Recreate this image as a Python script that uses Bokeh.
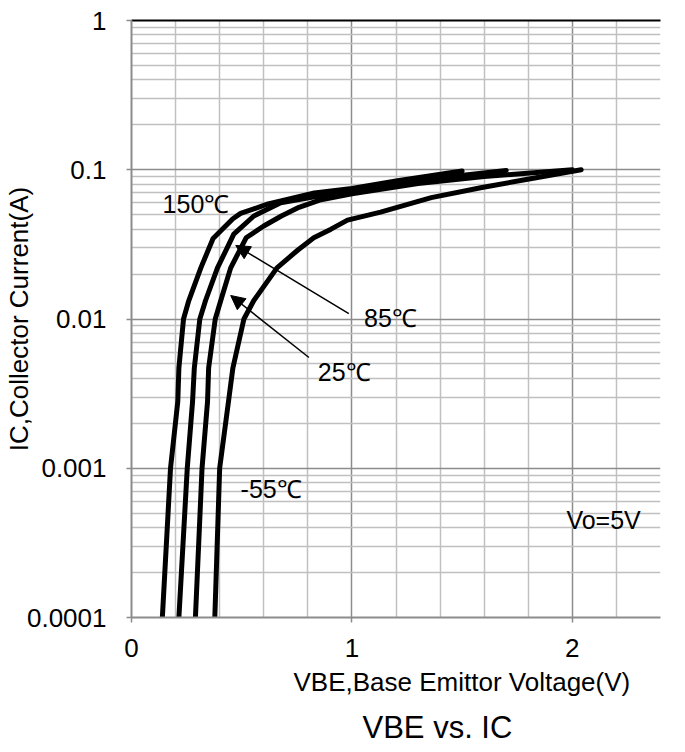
from bokeh.plotting import figure
from bokeh.models import (FixedTicker, LinearAxis, Range1d, Label, Arrow, NormalHead,
                          CustomJSTickFormatter, Title)
from bokeh.embed import file_html
from bokeh.resources import INLINE

# ---- data ----
vbe_150 = [0.140, 0.177, 0.210, 0.215, 0.236, 0.260, 0.315, 0.370, 0.420, 0.460, 0.495, 0.620, 0.830, 1.000, 1.200, 1.500]
ic_150 = [1e-4, 1e-3, 2.8e-3, 4.7e-3, 1e-2, 1.33e-2, 2.21e-2, 3.46e-2, 4.1e-2, 4.7e-2, 5.1e-2, 5.9e-2, 7.0e-2, 7.5e-2, 8.4e-2, 9.8e-2]

vbe_85 = [0.215, 0.253, 0.277, 0.285, 0.310, 0.336, 0.390, 0.464, 0.555, 0.677, 0.830, 1.000, 1.300, 1.700]
ic_85 = [1e-4, 1e-3, 2.8e-3, 4.7e-3, 1e-2, 1.33e-2, 2.2e-2, 3.7e-2, 4.9e-2, 6.0e-2, 6.6e-2, 7.2e-2, 8.5e-2, 9.9e-2]

vbe_25 = [0.290, 0.320, 0.345, 0.350, 0.380, 0.405, 0.450, 0.520, 0.600, 0.680, 0.760, 0.860, 1.000, 1.300, 1.600, 2.000]
ic_25 = [1e-4, 1e-3, 2.8e-3, 4.7e-3, 1e-2, 1.33e-2, 2.2e-2, 3.5e-2, 4.2e-2, 4.9e-2, 5.6e-2, 6.3e-2, 6.9e-2, 8.1e-2, 9.0e-2, 1e-1]

vbe_m55 = [0.378, 0.400, 0.440, 0.460, 0.510, 0.555, 0.660, 0.755, 0.827, 0.905, 0.980, 1.130, 1.360, 1.590, 1.810, 2.040]
ic_m55 = [1e-4, 1e-3, 2.8e-3, 4.7e-3, 1e-2, 1.33e-2, 2.2e-2, 2.9e-2, 3.5e-2, 4.0e-2, 4.6e-2, 5.2e-2, 6.5e-2, 7.6e-2, 8.7e-2, 1e-1]

x_major_ticks = [0, 1, 2]
y_major_ticks = [1e-4, 1e-3, 1e-2, 1e-1, 1]

FONT = "Liberation Sans"

p = figure(width=685, height=752, output_backend="svg", toolbar_location=None,
           y_axis_type="log", x_range=Range1d(0, 2.4), y_range=Range1d(1e-4, 1),
           min_border_left=131, min_border_right=25, min_border_top=20, min_border_bottom=135)
p.outline_line_color = None
p.background_fill_color = "white"

x_minor = [round(0.2 * i, 1) for i in range(13) if (0.2 * i) % 1 > 1e-6 and (0.2 * i) % 1 < 1 - 1e-6]
y_minor = [m * 10.0 ** e for e in range(-4, 0) for m in range(2, 10)]

p.xaxis.ticker = FixedTicker(ticks=x_major_ticks, minor_ticks=x_minor)
p.yaxis.ticker = FixedTicker(ticks=y_major_ticks, minor_ticks=y_minor)
p.yaxis.formatter = CustomJSTickFormatter(code="return tick.toString();")

p.xgrid.grid_line_color = "#8c8c8c"
p.xgrid.minor_grid_line_color = "#c0c0c0"
p.ygrid.grid_line_color = "#8c8c8c"
p.ygrid.minor_grid_line_color = "#c0c0c0"
for g in (p.xgrid, p.ygrid):
    g.grid_line_width = 1.5
    g.minor_grid_line_width = 1.5

for ax in (p.xaxis, p.yaxis):
    ax.axis_line_color = "#8c8c8c"
    ax.axis_line_width = 2
    ax.major_tick_line_color = "#8c8c8c"
    ax.major_tick_line_width = 1.5
    ax.major_tick_out = 5
    ax.major_tick_in = 0
    ax.minor_tick_line_color = None
    ax.major_label_text_font = FONT
    ax.major_label_text_font_size = "26px"
    ax.major_label_text_color = "black"
    ax.axis_label_text_font = FONT
    ax.axis_label_text_font_size = "26px"
    ax.axis_label_text_font_style = "normal"
    ax.axis_label_text_color = "black"

p.yaxis.axis_label = "IC,Collector Current(A)"
p.xaxis.major_label_standoff = 16
p.yaxis.major_label_standoff = 20
p.yaxis.axis_label_standoff = -10

top = LinearAxis(ticker=FixedTicker(ticks=[]), axis_line_color="black", axis_line_width=2,
                 major_label_text_font_size="0px", major_tick_line_color=None,
                 minor_tick_line_color=None)
p.add_layout(top, "above")

xlabel = Title(text="VBE,Base Emittor Voltage(V)", align="left", offset=162, text_font=FONT,
               text_font_size="26px", text_font_style="normal", text_color="black", standoff=10)
p.add_layout(xlabel, "below")
title = Title(text="VBE vs. IC", align="left", offset=231, text_font=FONT, text_font_size="31px",
              text_font_style="normal", text_color="black", standoff=12)
p.add_layout(title, "below")

for xs, ys in ((vbe_150, ic_150), (vbe_85, ic_85), (vbe_25, ic_25), (vbe_m55, ic_m55)):
    p.line(xs, ys, line_color="black", line_width=5, line_cap="round", line_join="round")

labels = [("150℃", 0.141, 0.0594), ("85℃", 1.055, 0.0101), ("25℃", 0.845, 0.0044),
          ("-55℃", 0.495, 0.00073), ("Vo=5V", 1.973, 0.000447)]
for t, lx, ly in labels:
    p.add_layout(Label(x=lx, y=ly, text=t, text_font=FONT, text_font_size="25px",
                       text_baseline="middle", text_align="left", text_color="black"))

for xs, ys, xe, ye in ((0.986, 0.01088, 0.473, 0.0311), (0.805, 0.00552, 0.45, 0.01437)):
    p.add_layout(Arrow(end=NormalHead(size=14, fill_color="black", line_color="black"),
                       x_start=xs, y_start=ys, x_end=xe, y_end=ye,
                       line_color="black", line_width=1.5))

open("out.html", "w").write(file_html(p, INLINE))
